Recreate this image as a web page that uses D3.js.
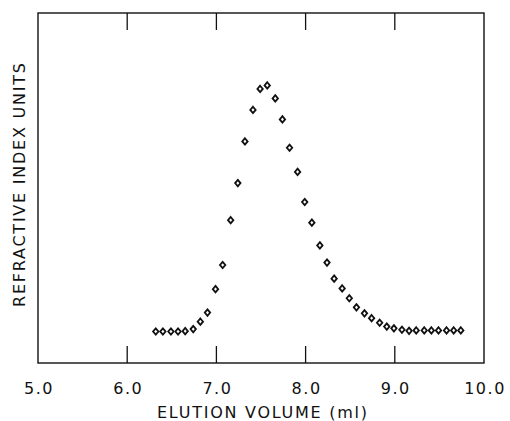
<!DOCTYPE html>
<html lang="en">
<head>
  <meta charset="utf-8" />
  <title>Elution profile</title>
  <style>
    body {
      margin: 0;
      padding: 0;
      background: #fff;
    }
    svg text {
      font-family: "DejaVu Sans", sans-serif;
      fill: #111;
    }
    .tick-label {
      font-size: 16px;
      letter-spacing: 1.5px;
    }
    .axis-title {
      font-size: 16px;
    }
  </style>
  <script src="https://d3js.org/d3.v7.min.js"></script>
</head>
<body>
  <svg width="510" height="421"></svg>
  <script>
    // elution volume (ml) of each reading
    const volume = [
      6.32, 6.40, 6.49, 6.57, 6.65, 6.74, 6.82, 6.90, 6.99, 7.07,
      7.16, 7.24, 7.32, 7.41, 7.49, 7.57, 7.66, 7.74, 7.82, 7.91,
      7.99, 8.07, 8.16, 8.24, 8.32, 8.41, 8.49, 8.57, 8.66, 8.74,
      8.83, 8.91, 8.99, 9.08, 9.16, 9.24, 9.33, 9.41, 9.49, 9.58,
      9.66, 9.74
    ];
    // detector signal, arbitrary refractive index units
    const signal = [
      9.0, 9.0, 9.0, 9.0, 9.1, 9.7, 11.8, 14.4, 21.1, 28.0,
      40.8, 51.4, 63.3, 72.3, 78.3, 79.3, 75.6, 69.6, 61.5, 54.6,
      46.0, 40.1, 33.6, 28.7, 24.1, 21.3, 18.5, 15.9, 14.2, 12.8,
      11.5, 10.4, 9.9, 9.5, 9.2, 9.3, 9.3, 9.3, 9.3, 9.3,
      9.3, 9.3
    ];
    const xTicks = [5, 6, 7, 8, 9, 10];

    const svg = d3.select("svg");
    const margin = { top: 13, right: 26, bottom: 58, left: 38 };
    const width = +svg.attr("width") - margin.left - margin.right,
          height = +svg.attr("height") - margin.top - margin.bottom;

    const x = d3.scaleLinear().domain([5, 10]).range([0, width]);
    const y = d3.scaleLinear().domain([0, 100]).range([height, 0]);

    const g = svg.append("g")
      .attr("transform", `translate(${margin.left},${margin.top})`);

    // frame
    g.append("rect")
      .attr("width", width)
      .attr("height", height)
      .attr("fill", "none")
      .attr("stroke", "#111")
      .attr("stroke-width", 1.4);

    // inward ticks, bottom and top
    const tickLen = 17;
    const inner = xTicks.slice(1, -1);
    g.append("g")
      .selectAll("line")
      .data(inner)
      .join("line")
      .attr("x1", d => x(d))
      .attr("x2", d => x(d))
      .attr("y1", height)
      .attr("y2", height - tickLen)
      .attr("stroke", "#111")
      .attr("stroke-width", 1.3);
    g.append("g")
      .selectAll("line")
      .data(inner)
      .join("line")
      .attr("x1", d => x(d))
      .attr("x2", d => x(d))
      .attr("y1", 0)
      .attr("y2", tickLen)
      .attr("stroke", "#111")
      .attr("stroke-width", 1.3);

    g.append("g")
      .selectAll("text")
      .data(xTicks)
      .join("text")
      .attr("class", "tick-label")
      .attr("x", d => x(d) + 1)
      .attr("y", height + 31)
      .attr("text-anchor", "middle")
      .text(d => d.toFixed(1));

    g.append("text")
      .attr("class", "axis-title")
      .attr("x", 262 - margin.left)
      .attr("y", height + 55)
      .attr("text-anchor", "middle")
      .attr("textLength", 210)
      .attr("lengthAdjust", "spacing")
      .text("ELUTION VOLUME (ml)");

    svg.append("text")
      .attr("class", "axis-title")
      .attr("transform", "translate(25,185) rotate(-90)")
      .attr("text-anchor", "middle")
      .attr("textLength", 244)
      .attr("lengthAdjust", "spacing")
      .text("REFRACTIVE INDEX UNITS");

    // diamond markers, a bit taller than wide
    const diamond = {
      draw(ctx, size) {
        const hw = 2.7, hh = 3.2;
        ctx.moveTo(0, -hh);
        ctx.lineTo(hw, 0);
        ctx.lineTo(0, hh);
        ctx.lineTo(-hw, 0);
        ctx.closePath();
      }
    };

    g.append("g")
      .selectAll("path")
      .data(volume.map((v, i) => [v, signal[i]]))
      .join("path")
      .attr("transform", d => `translate(${x(d[0])},${y(d[1])})`)
      .attr("d", d3.symbol().type(diamond))
      .attr("fill", "#fff")
      .attr("stroke", "#111")
      .attr("stroke-width", 1.8);
  </script>
</body>
</html>
